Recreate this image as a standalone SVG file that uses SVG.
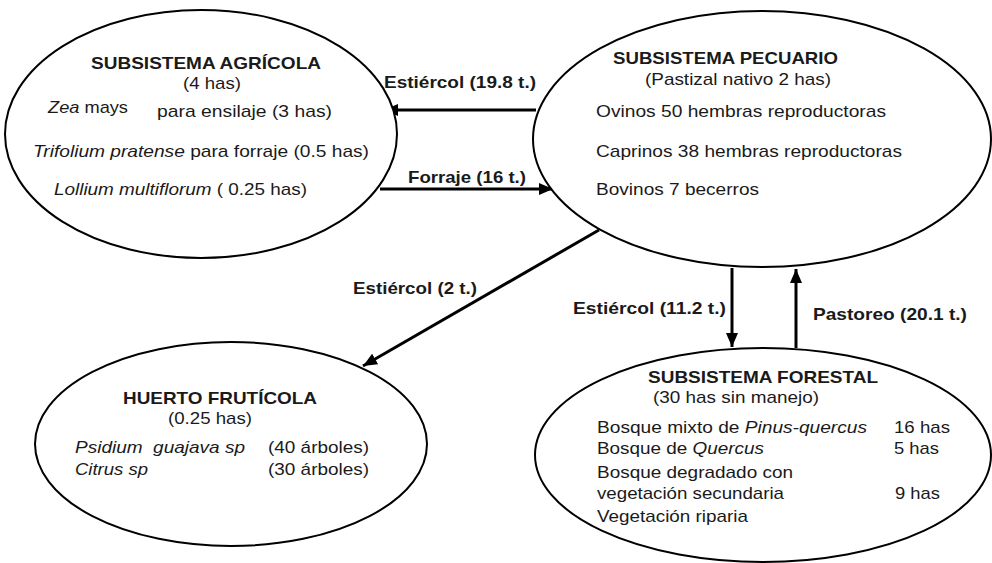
<svg xmlns="http://www.w3.org/2000/svg" width="992" height="563" viewBox="0 0 992 563">
<style>
  .node { fill: #ffffff; stroke: #000000; stroke-width: 2; }
  .t { font-family: "Liberation Sans", Arial, sans-serif; font-size: 17px; fill: #1a1a1a; }
  .b { font-weight: bold; }
  .i { font-style: italic; }
  .conn { stroke: #000000; stroke-width: 3; fill: none; marker-end: url(#arr); }
</style>
<defs>
  <marker id="arr" markerUnits="userSpaceOnUse" markerWidth="16" markerHeight="14" refX="14" refY="6" orient="auto">
    <path d="M0,0 L14,6 L0,12 Z" fill="#000000"/>
  </marker>
</defs>
<rect width="992" height="563" fill="#ffffff"/>

<g id="connectors">
  <line class="conn" x1="536" y1="110" x2="384" y2="110"/>
  <line class="conn" x1="380" y1="189" x2="553" y2="189"/>
  <line class="conn" x1="599" y1="230" x2="363" y2="366"/>
  <line class="conn" x1="732" y1="268" x2="732" y2="347"/>
  <line class="conn" x1="796" y1="348" x2="796" y2="269"/>
  <text class="t b" x="384" y="88" textLength="152" lengthAdjust="spacingAndGlyphs">Estiércol (19.8 t.)</text>
  <text class="t b" x="408" y="183" textLength="118" lengthAdjust="spacingAndGlyphs">Forraje (16 t.)</text>
  <text class="t b" x="353" y="294" textLength="124" lengthAdjust="spacingAndGlyphs">Estiércol (2 t.)</text>
  <text class="t b" x="573" y="314" textLength="153" lengthAdjust="spacingAndGlyphs">Estiércol (11.2 t.)</text>
  <text class="t b" x="813" y="320" textLength="154" lengthAdjust="spacingAndGlyphs">Pastoreo (20.1 t.)</text>
</g>

<g id="agricola">
  <ellipse class="node" cx="201" cy="134" rx="196" ry="124"/>
  <text class="t b" x="91" y="69" textLength="230" lengthAdjust="spacingAndGlyphs">SUBSISTEMA AGRÍCOLA</text>
  <text class="t" x="183" y="89" textLength="58" lengthAdjust="spacingAndGlyphs">(4 has)</text>
  <text class="t" x="48" y="113" textLength="80" lengthAdjust="spacingAndGlyphs"><tspan class="i">Zea</tspan> mays</text>
  <text class="t" x="157" y="117" textLength="175" lengthAdjust="spacingAndGlyphs">para ensilaje (3 has)</text>
  <text class="t" x="33" y="157" textLength="336" lengthAdjust="spacingAndGlyphs"><tspan class="i">Trifolium pratense</tspan> para forraje (0.5 has)</text>
  <text class="t" x="54" y="195" textLength="253" lengthAdjust="spacingAndGlyphs"><tspan class="i">Lollium multiflorum</tspan> ( 0.25 has)</text>
</g>

<g id="pecuario">
  <ellipse class="node" cx="762" cy="139" rx="229" ry="128"/>
  <text class="t b" x="613" y="64" textLength="225" lengthAdjust="spacingAndGlyphs">SUBSISTEMA PECUARIO</text>
  <text class="t" x="645" y="85" textLength="186" lengthAdjust="spacingAndGlyphs">(Pastizal nativo 2 has)</text>
  <text class="t" x="596" y="117" textLength="290" lengthAdjust="spacingAndGlyphs">Ovinos 50 hembras reproductoras</text>
  <text class="t" x="596" y="157" textLength="306" lengthAdjust="spacingAndGlyphs">Caprinos 38 hembras reproductoras</text>
  <text class="t" x="596" y="195" textLength="163" lengthAdjust="spacingAndGlyphs">Bovinos 7 becerros</text>
</g>

<g id="huerto">
  <ellipse class="node" cx="231" cy="444" rx="196" ry="102"/>
  <text class="t b" x="123" y="404" textLength="194" lengthAdjust="spacingAndGlyphs">HUERTO FRUTÍCOLA</text>
  <text class="t" x="168" y="424" textLength="84" lengthAdjust="spacingAndGlyphs">(0.25 has)</text>
  <text class="t i" x="75" y="453" xml:space="preserve" textLength="170" lengthAdjust="spacingAndGlyphs">Psidium  guajava sp</text>
  <text class="t" x="268" y="453" textLength="101" lengthAdjust="spacingAndGlyphs">(40 árboles)</text>
  <text class="t i" x="75" y="475" textLength="73" lengthAdjust="spacingAndGlyphs">Citrus sp</text>
  <text class="t" x="268" y="475" textLength="101" lengthAdjust="spacingAndGlyphs">(30 árboles)</text>
</g>

<g id="forestal">
  <ellipse class="node" cx="763" cy="455" rx="228" ry="107"/>
  <text class="t b" x="648" y="383" textLength="230" lengthAdjust="spacingAndGlyphs">SUBSISTEMA FORESTAL</text>
  <text class="t" x="653" y="403" textLength="166" lengthAdjust="spacingAndGlyphs">(30 has sin manejo)</text>
  <text class="t" x="597" y="433" textLength="270" lengthAdjust="spacingAndGlyphs">Bosque mixto de <tspan class="i">Pinus-quercus</tspan></text>
  <text class="t" x="894" y="433" textLength="56" lengthAdjust="spacingAndGlyphs">16 has</text>
  <text class="t" x="597" y="454" textLength="167" lengthAdjust="spacingAndGlyphs">Bosque de <tspan class="i">Quercus</tspan></text>
  <text class="t" x="894" y="454" textLength="45" lengthAdjust="spacingAndGlyphs">5 has</text>
  <text class="t" x="597" y="478" textLength="196" lengthAdjust="spacingAndGlyphs">Bosque degradado con</text>
  <text class="t" x="597" y="499" textLength="187" lengthAdjust="spacingAndGlyphs">vegetación secundaria</text>
  <text class="t" x="895" y="499" textLength="45" lengthAdjust="spacingAndGlyphs">9 has</text>
  <text class="t" x="597" y="522" textLength="151" lengthAdjust="spacingAndGlyphs">Vegetación riparia</text>
</g>
</svg>
